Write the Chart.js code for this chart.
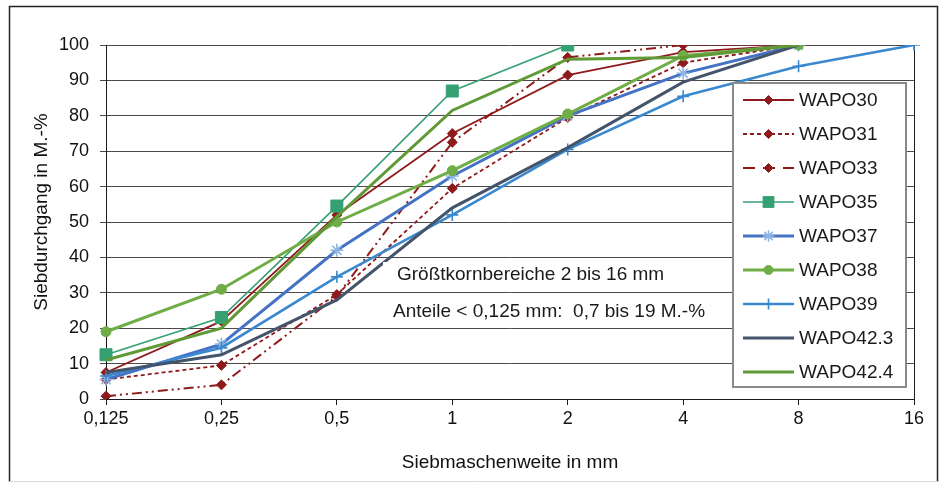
<!DOCTYPE html>
<html><head><meta charset="utf-8">
<script src="https://cdn.jsdelivr.net/npm/chart.js@4"></script>
<style>html,body{margin:0;padding:0;background:#fff}canvas{display:block}</style>
</head><body>
<canvas id="c" width="939" height="482" style="width:939px;height:482px"></canvas>
<script>
// ---- data ----
const sieveLabels = ['0,125','0,25','0,5','1','2','4','8','16'];
const seriesNames = ['WAPO30','WAPO31','WAPO33','WAPO35','WAPO37','WAPO38','WAPO39','WAPO42.3','WAPO42.4'];
const wapo30  = [7.5, 22, 52, 75, 91.5, 98, 100];
const wapo31  = [5.5, 9.5, 29.5, 59.5, 79.5, 95, 100];
const wapo33  = [0.8, 4, 29, 72.5, 96.5, 100, 100];
const wapo35  = [12.5, 23, 54.5, 87, 100];
const wapo37  = [5.5, 15.5, 42, 63, 80, 92, 100];
const wapo38  = [19, 31, 50, 64.5, 80.5, 97, 100];
const wapo39  = [6.5, 14.5, 34.5, 52, 70.5, 85.5, 94, 100];
const wapo423 = [7.5, 12.5, 28, 54, 71, 89.5, 100];
const wapo424 = [11, 20, 51.5, 81.5, 96, 96.5, 100];
const yTicksMin = 0, yTicksMax = 100, yTickStep = 10;
const yTitle = 'Siebdurchgang in M.-%';
const xTitle = 'Siebmaschenweite in mm';
const noteLines = ['Größtkornbereiche 2 bis 16 mm', 'Anteile < 0,125 mm:  0,7 bis 19 M.-%'];

// ---- styles ----
const FONT = "'Liberation Sans', Arial, sans-serif";
const RED = '#8e1a1c';
const styles = [
  {c: RED, w: 1.8, dash: [], ps: 'rectRot', r: 5, pc: RED},
  {c: RED, w: 1.8, dash: [4, 3], ps: 'rectRot', r: 5, pc: RED},
  {c: RED, w: 2, dash: [10, 4, 2, 4, 2, 4], ps: 'rectRot', r: 5, pc: RED},
  {c: '#35a173', w: 1.6, dash: [], ps: 'rect', r: 8.5, pc: '#35a173'},
  {c: '#4472c4', w: 3, dash: [], ps: 'star', r: 6.5, pc: '#8db4e2'},
  {c: '#70ad47', w: 3, dash: [], ps: 'circle', r: 5, pc: '#70ad47'},
  {c: '#3a88d0', w: 2.6, dash: [], ps: 'cross', r: 6, pc: '#3a88d0'},
  {c: '#44546a', w: 3, dash: [], ps: false, r: 0, pc: '#44546a'},
  {c: '#5f9a36', w: 3, dash: [], ps: false, r: 0, pc: '#5f9a36'}
];
const legendDash = [[], [4, 3], [12, 8], [], [], [], [], [], []];
const seriesData = [wapo30, wapo31, wapo33, wapo35, wapo37, wapo38, wapo39, wapo423, wapo424];

const datasets = seriesNames.map((name, i) => {
  const s = styles[i];
  return {
    label: name,
    data: seriesData[i],
    borderColor: s.c,
    backgroundColor: s.pc,
    borderWidth: s.w,
    borderDash: s.dash,
    pointStyle: s.ps || 'circle',
    pointRadius: s.ps ? s.r : 0,
    pointBackgroundColor: s.pc,
    pointBorderColor: s.pc,
    pointBorderWidth: s.ps === 'star' || s.ps === 'cross' ? 1.6 : 1,
    tension: 0,
    fill: false,
    order: -i
  };
});

const framePlugin = {
  id: 'frame',
  beforeDraw(chart) {
    const ctx = chart.ctx;
    ctx.save();
    ctx.fillStyle = '#fff';
    ctx.fillRect(0, 0, chart.width, chart.height);
    ctx.restore();
  },
  afterDatasetsDraw(chart) {
    const ctx = chart.ctx, a = chart.chartArea;
    ctx.save();
    ctx.font = '19px ' + FONT;
    ctx.textBaseline = 'middle';
    ctx.fillStyle = '#fff';
    const x0 = a.left + 277, x1 = a.left + 291;
    ctx.fillRect(x0, a.top + 217, 310, 27);
    ctx.fillRect(x0, a.top + 253, 310, 28);
    ctx.fillStyle = '#1a1a1a';
    ctx.fillText(noteLines[0], x1, a.top + 230);
    ctx.fillText(noteLines[1], x1 - 4, a.top + 267);
    ctx.restore();
  },
  afterDraw(chart) {
    const ctx = chart.ctx, a = chart.chartArea;
    ctx.save();
    // y axis title
    ctx.save();
    ctx.translate(42, (a.top + a.bottom) / 2 - 10);
    ctx.rotate(-Math.PI / 2);
    ctx.font = '19px ' + FONT;
    ctx.fillStyle = '#111';
    ctx.textAlign = 'center';
    ctx.textBaseline = 'middle';
    ctx.fillText(yTitle, 0, 0);
    ctx.restore();
    // legend box
    const lx = a.right - 181, ly = a.top + 38, lw = 173, lh = 304;
    ctx.fillStyle = '#fff';
    ctx.fillRect(lx, ly, lw, lh);
    ctx.strokeStyle = '#8a8a8a';
    ctx.lineWidth = 2;
    ctx.strokeRect(lx, ly, lw, lh);
    ctx.font = '19px ' + FONT;
    ctx.textBaseline = 'middle';
    chart.data.datasets.forEach((ds, i) => {
      const y = ly + 17 + i * 34;
      const x0 = lx + 10, x1 = lx + 61, xm = (x0 + x1) / 2;
      ctx.save();
      ctx.strokeStyle = ds.borderColor;
      ctx.lineWidth = ds.borderWidth;
      ctx.setLineDash(legendDash[i]);
      ctx.beginPath(); ctx.moveTo(x0, y); ctx.lineTo(x1, y); ctx.stroke();
      ctx.setLineDash([]);
      if (ds.pointRadius > 0) {
        ctx.fillStyle = ds.pointBackgroundColor;
        ctx.strokeStyle = ds.pointBorderColor;
        ctx.lineWidth = ds.pointBorderWidth;
        Chart.helpers.drawPoint(ctx, {pointStyle: ds.pointStyle, rotation: 0,
          radius: ds.pointStyle === 'rectRot' ? 4.5 : ds.pointRadius * 0.9, borderWidth: ds.pointBorderWidth}, xm, y);
      }
      ctx.restore();
      ctx.fillStyle = '#1a1a1a';
      ctx.fillText(ds.label, lx + 66, y + 1);
    });
    // outer frame
    ctx.strokeStyle = '#222';
    ctx.lineWidth = 1.5;
    ctx.beginPath();
    ctx.moveTo(9.5, 482); ctx.lineTo(9.5, 6.5); ctx.lineTo(937.5, 6.5); ctx.lineTo(937.5, 482);
    ctx.stroke();
    ctx.strokeStyle = '#d9d9d9';
    ctx.lineWidth = 1;
    ctx.beginPath(); ctx.moveTo(9, 481.5); ctx.lineTo(938, 481.5); ctx.stroke();
    ctx.restore();
  }
};

new Chart(document.getElementById('c'), {
  type: 'line',
  data: { labels: sieveLabels, datasets },
  options: {
    responsive: false,
    animation: false,
    devicePixelRatio: 1,
    layout: { padding: { left: 0, top: 45, right: 25, bottom: 0 } },
    plugins: { legend: { display: false }, tooltip: { enabled: false } },
    scales: {
      x: {
        type: 'category',
        offset: false,
        grid: {
          color: c => (c.index === sieveLabels.length - 1 ? '#1a1a1a' : 'rgba(0,0,0,0)'),
          tickColor: '#1a1a1a',
          tickLength: 6,
          lineWidth: 1
        },
        border: { color: '#1a1a1a', width: 1 },
        ticks: { color: '#111', font: { family: FONT, size: 18 }, padding: 3, maxRotation: 0, autoSkip: false },
        title: { display: true, text: xTitle, color: '#111', font: { family: FONT, size: 19 }, padding: { top: 0, bottom: 8 } },
        afterFit: s => { s.height = 83; }
      },
      y: {
        min: yTicksMin, max: yTicksMax,
        grid: { color: '#4a4a4a', tickColor: '#4a4a4a', tickLength: 6, lineWidth: 1 },
        border: { color: '#1a1a1a', width: 1 },
        ticks: { stepSize: yTickStep, color: '#111', font: { family: FONT, size: 18 }, padding: 11 },
        title: { display: false },
        afterFit: s => { s.width = 106; }
      }
    }
  },
  plugins: [framePlugin]
});
</script>
</body></html>
